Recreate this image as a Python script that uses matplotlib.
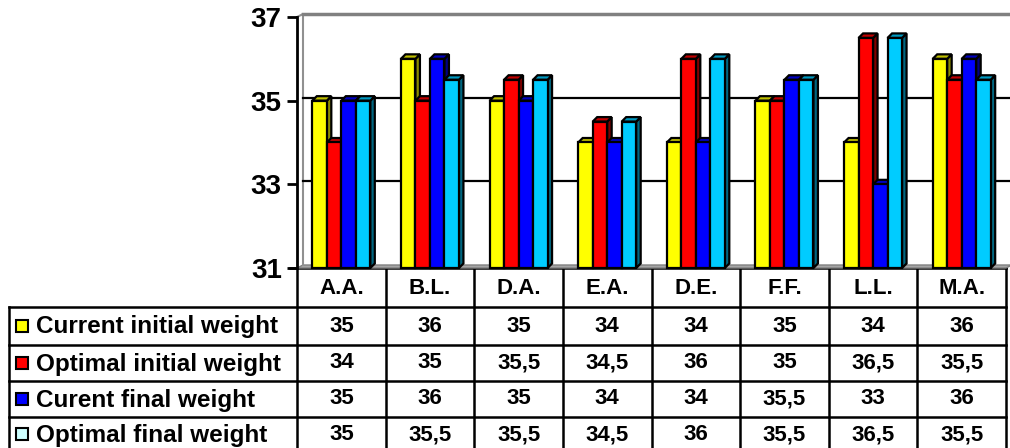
import matplotlib
matplotlib.use("Agg")
import matplotlib.pyplot as plt
from matplotlib.patches import Polygon, Rectangle

plt.rcParams["font.family"] = ["Liberation Sans", "DejaVu Sans"]
plt.rcParams["font.weight"] = "bold"

# ---------------------------------------------------------------------
# Data
# ---------------------------------------------------------------------
categories = ["A.A.", "B.L.", "D.A.", "E.A.", "D.E.", "F.F.", "L.L.", "M.A."]
series_names = ["Current initial weight", "Optimal initial weight",
                "Curent final weight", "Optimal final weight"]
current_initial = [35, 36, 35, 34, 34, 35, 34, 36]
optimal_initial = [34, 35, 35.5, 34.5, 36, 35, 36.5, 35.5]
current_final = [35, 36, 35, 34, 34, 35.5, 33, 36]
optimal_final = [35, 35.5, 35.5, 34.5, 36, 35.5, 36.5, 35.5]
series_values = [current_initial, optimal_initial, current_final, optimal_final]

y_ticks = [31, 33, 35, 37]

front_colors = ["#FFFF00", "#FF0000", "#0000FF", "#00CCFF"]
top_colors = ["#BFBF00", "#C00000", "#0000C0", "#0099C0"]
side_colors = ["#8C8C00", "#800000", "#000080", "#006680"]
swatch_colors = ["#FFFF00", "#FF0000", "#0000FF", "#CCFFFF"]

# ---------------------------------------------------------------------
# Layout (pixels)
# ---------------------------------------------------------------------
W, H = 1010, 448
ax_left, ax_right, ax_top, ax_bottom = 297, 1006, 17, 268
col_w = (ax_right - ax_left) / len(categories)
row_lines = [307, 345, 381, 417, 452]
label_left = 9


def fmt(v):
    return f"{v:g}".replace(".", ",")


fig = plt.figure(figsize=(W / 100, H / 100), dpi=100)

# overlay axes in pixel coordinates for the data table
tab = fig.add_axes([0, 0, 1, 1])
tab.set_xlim(0, W)
tab.set_ylim(H, 0)
tab.axis("off")

ax = fig.add_axes([ax_left / W, (H - ax_bottom) / H,
                   (ax_right - ax_left) / W, (ax_bottom - ax_top) / H])
ax.set_xlim(0, len(categories))
ax.set_ylim(y_ticks[0], y_ticks[-1])
ax.patch.set_visible(False)

px_x = len(categories) / (ax_right - ax_left)
px_y = (y_ticks[-1] - y_ticks[0]) / (ax_bottom - ax_top)

# walls
wx, wy = 6 * px_x, 3 * px_y
y0, y1 = y_ticks[0], y_ticks[-1]
n = len(categories)
ax.add_patch(Polygon([(0, y0), (n, y0), (n + wx, y0 + wy), (wx, y0 + wy)],
                     closed=True, facecolor="#A6A6A6", edgecolor="#808080",
                     lw=1, clip_on=False, zorder=1))
ax.plot([0, wx, wx], [y1, y1 + wy, y0 + wy], color="#909090", lw=1.5,
        clip_on=False, zorder=1)
ax.plot([wx, n + 2 * wx], [y1 + wy, y1 + wy], color="#808080", lw=2.5,
        clip_on=False, zorder=1)
for t in y_ticks[1:-1]:
    ax.plot([wx, n + 2 * wx], [t + wy, t + wy], color="black", lw=1.6,
            clip_on=False, zorder=1)

# 3D bars
bar_w = 14.5 * px_x
dx, dy = 4.5 * px_x, 4.5 * px_y
n_ser = len(series_values)
for i in range(n):
    for j in range(n_ser):
        v = series_values[j][i]
        x0 = i + 0.5 - n_ser / 2 * bar_w + j * bar_w
        side = Polygon([(x0 + bar_w, y0), (x0 + bar_w + dx, y0 + dy),
                        (x0 + bar_w + dx, v + dy), (x0 + bar_w, v)],
                       closed=True, facecolor=side_colors[j], edgecolor="black",
                       lw=1.6, zorder=2, clip_on=False)
        top = Polygon([(x0, v), (x0 + bar_w, v), (x0 + bar_w + dx, v + dy),
                       (x0 + dx, v + dy)],
                      closed=True, facecolor=top_colors[j], edgecolor="black",
                      lw=1.6, zorder=2, clip_on=False)
        front = Rectangle((x0, y0), bar_w, v - y0, facecolor=front_colors[j],
                          edgecolor="black", lw=1.6, zorder=2, clip_on=False)
        ax.add_patch(side)
        ax.add_patch(top)
        ax.add_patch(front)

# axis
for s in ["top", "right"]:
    ax.spines[s].set_visible(False)
ax.spines["left"].set_linewidth(2)
ax.spines["bottom"].set_visible(False)
ax.set_yticks(y_ticks)
ax.set_yticklabels([str(t) for t in y_ticks], fontsize=20, fontweight="bold")
ax.tick_params(axis="y", length=7, width=2, pad=4)
ax.set_xticks([])

# ---------------------------------------------------------------------
# Data table
# ---------------------------------------------------------------------
lw = 1.8
tab.plot([ax_left - 7, ax_right], [ax_bottom, ax_bottom], color="black", lw=lw)
for y in row_lines[:-1]:
    tab.plot([label_left, ax_right], [y, y], color="black", lw=lw)
tab.plot([label_left, label_left], [row_lines[0], H], color="black", lw=lw)
for k in range(n + 1):
    x = ax_left + k * col_w
    tab.plot([x, x], [ax_bottom, H], color="black", lw=lw)

for i, cat in enumerate(categories):
    tab.text(ax_left + (i + 0.5) * col_w, (ax_bottom + row_lines[0]) / 2 + 1,
             cat, ha="center", va="center", fontsize=16, fontweight="bold")

for j, name in enumerate(series_names):
    yc = (row_lines[j] + row_lines[j + 1]) / 2
    tab.add_patch(Rectangle((16, yc - 6), 12, 12, facecolor=swatch_colors[j],
                            edgecolor="black", lw=1.5))
    tab.text(36, yc + 1, name, ha="left", va="center", fontsize=17.5,
             fontweight="bold")
    for i in range(n):
        tab.text(ax_left + (i + 0.5) * col_w, yc, fmt(series_values[j][i]),
                 ha="center", va="center", fontsize=16, fontweight="bold")

fig.savefig("out.png", dpi=100)
